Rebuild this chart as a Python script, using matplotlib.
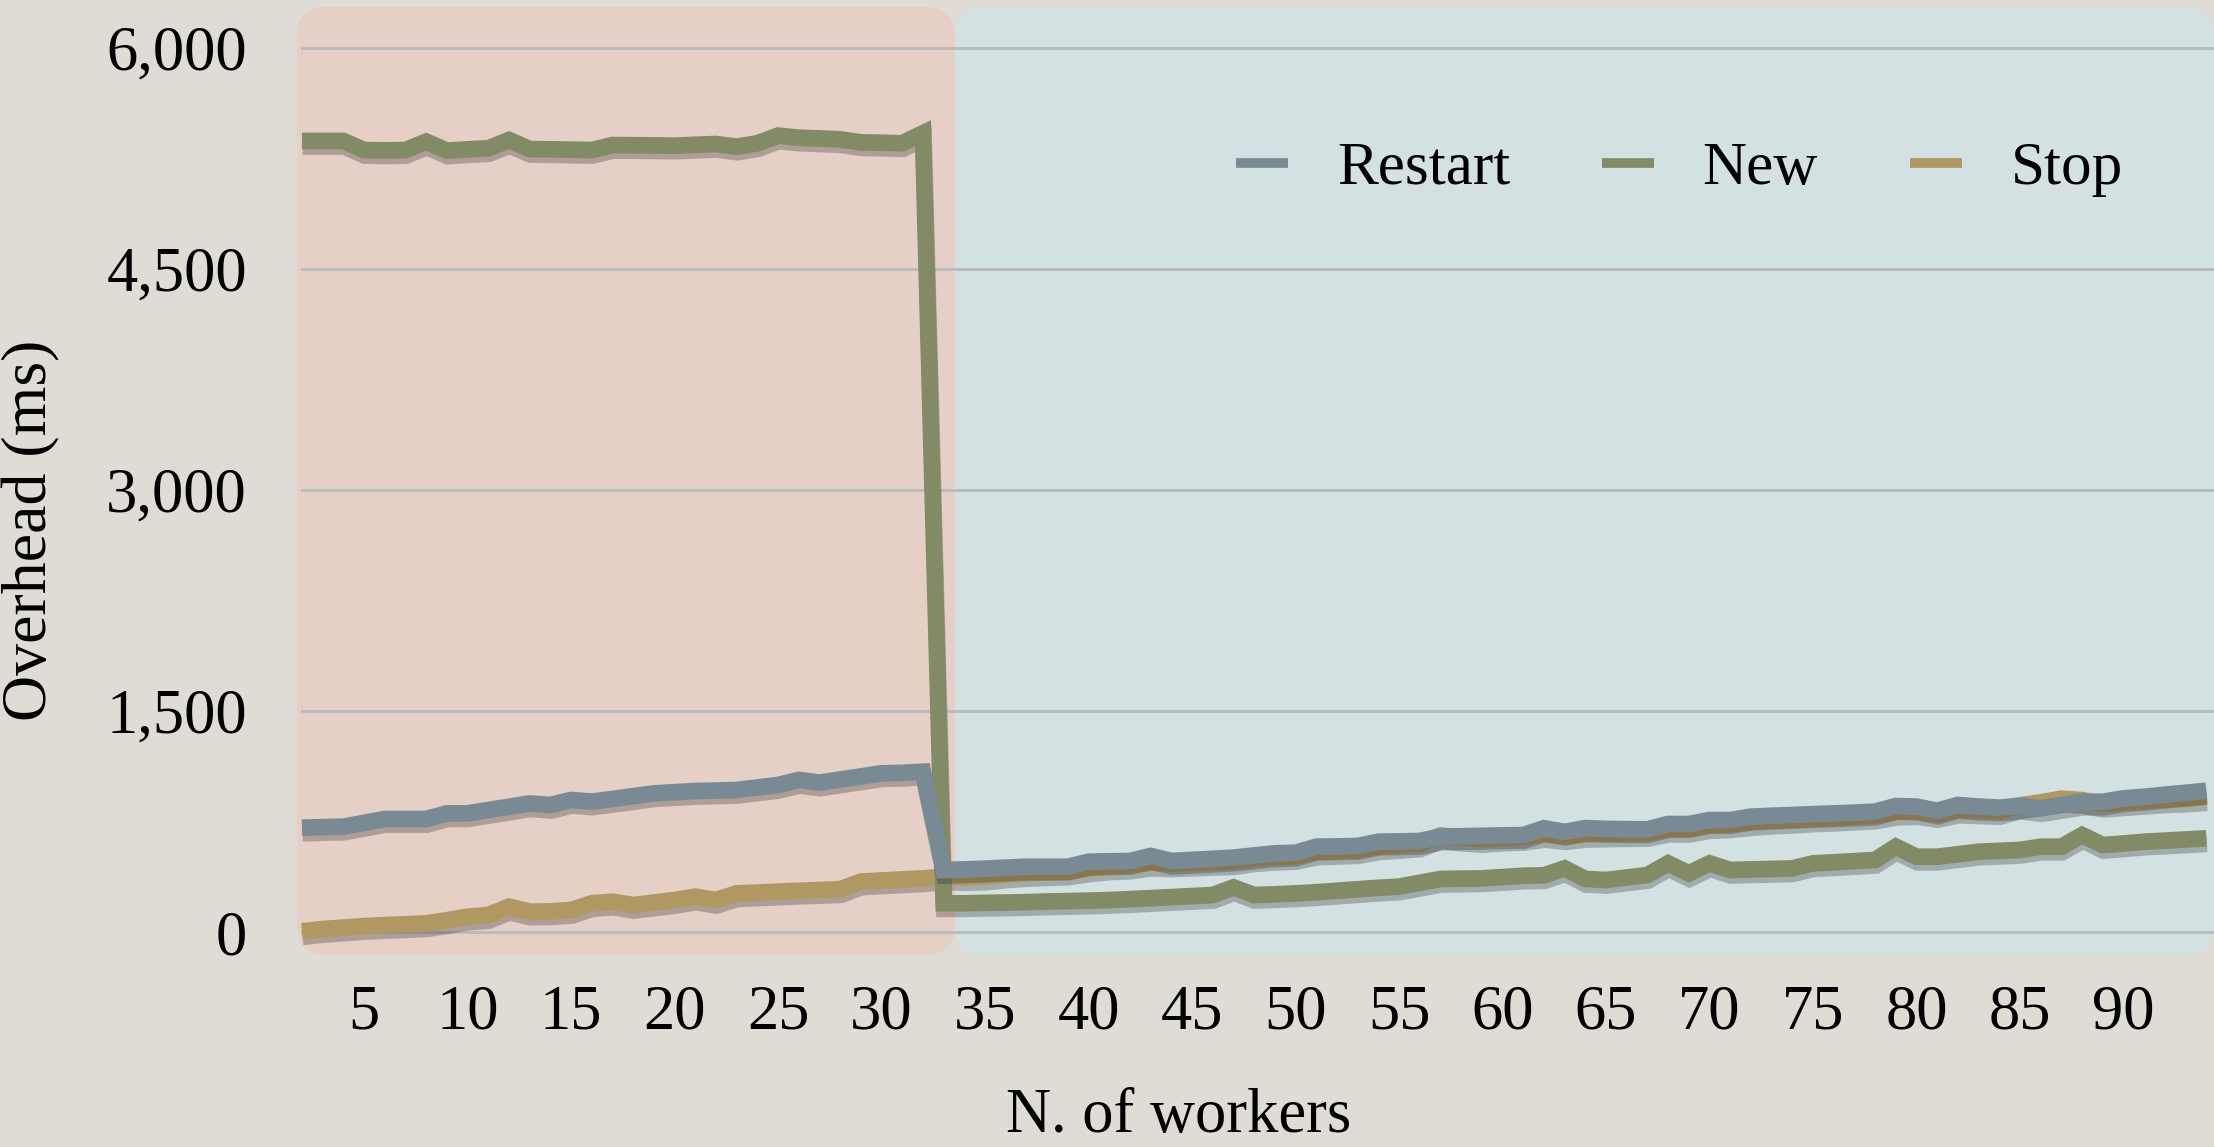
import matplotlib
matplotlib.use('Agg')
import matplotlib.pyplot as plt
import matplotlib.patheffects as pe
from matplotlib.patches import FancyBboxPatch
from matplotlib.lines import Line2D

# ---- data ----
workers = list(range(2, 95))

restart = [708, 712, 715, 741, 767, 767, 767, 805, 805, 828, 850, 873, 862, 896, 885, 903,
           922, 941, 949, 957, 960, 964, 981, 998, 1032, 1014, 1035, 1056, 1077, 1080, 1088,
           421, 425, 430, 437, 443, 443, 443, 477, 480, 482,
           516, 482, 490, 497, 505, 520, 534, 538, 579, 581,
           584, 613, 615, 618, 647, 650, 653, 656, 658, 704,
           680, 705, 700, 698, 697, 733, 733, 760, 760, 783,
           789, 794, 800, 805, 810, 817, 855, 851, 823, 862,
           851, 844, 857, 840, 862, 884, 884, 907, 918, 932,
           945, 959]

new = [5369, 5369, 5369, 5307, 5305, 5307, 5364, 5303, 5312, 5319, 5375, 5314, 5312, 5310,
       5307, 5341, 5340, 5339, 5337, 5343, 5348, 5330, 5353, 5405, 5391, 5386, 5380, 5359,
       5357, 5353, 5421,
       195, 195, 198, 200, 203, 207, 210, 213, 217, 223,
       230, 237, 244, 251, 303, 251, 256, 262, 270, 280,
       290, 300, 308, 334, 360, 362, 364, 373, 382, 385,
       432, 360, 353, 370, 387, 466, 398, 466, 421, 425,
       428, 432, 466, 473, 481, 489, 579, 511, 511, 528,
       545, 551, 557, 579, 579, 658, 590, 601, 613, 620,
       628, 636]

stop = [5, 20, 30, 40, 47, 53, 59, 80, 104, 115, 172, 138, 140, 149, 195, 206, 183, 200,
        217, 240, 217, 262, 268, 274, 280, 285, 290, 342, 350, 357, 364,
        376, 372, 375, 390, 400, 405, 410, 430, 445, 450,
        470, 465, 470, 475, 480, 500, 510, 515, 545, 550,
        555, 580, 590, 600, 655, 640, 630, 640, 645, 665,
        650, 665, 668, 670, 672, 700, 700, 725, 730, 745,
        755, 762, 770, 775, 782, 790, 815, 820, 800, 830,
        825, 820, 860, 880, 905, 895, 870, 880, 890, 900,
        905, 915]

series_names = ['Restart', 'New', 'Stop']
series_colors = ['#7A8A94', '#838A66', '#B09862']

x_ticks = [5, 10, 15, 20, 25, 30, 35, 40, 45, 50, 55, 60, 65, 70, 75, 80, 85, 90]
y_ticks = [0, 1500, 3000, 4500, 6000]
y_tick_labels = ['0', '1,500', '3,000', '4,500', '6,000']

plt.rcParams['font.family'] = ['Liberation Serif', 'DejaVu Serif']

W, H = 2214, 1147
fig = plt.figure(figsize=(W / 100, H / 100), dpi=100)
fig.patch.set_facecolor('#DEDCD5')

# axes box in pixels (top-down)
left, right, bottom, top = 297, 2214, 955, 7
ax = fig.add_axes([left / W, 1 - bottom / H, (right - left) / W, (bottom - top) / H])
ax.set_facecolor('none')
ax.set_xlim(1.76, 94.37)
ax.set_ylim(-156, 6278)

# coloured background panels
aw, ah = right - left, bottom - top
split = (955 - left) / aw
r = 30 / aw
ax.add_patch(FancyBboxPatch((0, 0), split, 1, boxstyle='round,pad=0,rounding_size=%f' % r,
                            mutation_aspect=aw / ah, transform=ax.transAxes,
                            fc='#E5CFC6', ec='none', zorder=0, clip_on=False))
ax.add_patch(FancyBboxPatch((split, 0), 1 - split, 1, boxstyle='round,pad=0,rounding_size=%f' % r,
                            mutation_aspect=aw / ah, transform=ax.transAxes,
                            fc='#D4E1E3', ec='none', zorder=0, clip_on=False))

for v in y_ticks:
    ax.axhline(v, xmin=(302 - left) / aw, xmax=1, color='#B9B9BE', lw=2, zorder=1)

shadow = [pe.SimpleLineShadow(offset=(0.5, -4), shadow_color='#202020', alpha=0.28), pe.Normal()]
for vals, name, col, z in zip([restart, new, stop], series_names, series_colors, [4, 3, 2]):
    ax.plot(workers, vals, color=col, lw=12, solid_joinstyle='miter', solid_capstyle='butt',
            zorder=z, path_effects=shadow, label=name)

for s in ax.spines.values():
    s.set_visible(False)
ax.set_xticks(x_ticks)
ax.set_yticks(y_ticks)
ax.set_yticklabels(y_tick_labels)
ax.tick_params(axis='both', length=0, labelsize=45, colors='black')
ax.tick_params(axis='y', pad=36)
ax.tick_params(axis='x', pad=21)

handles = [Line2D([], [], color=c, lw=7, solid_capstyle='butt') for c in series_colors]
leg = fig.legend(handles, series_names, loc='center left', bbox_to_anchor=(1236 / W, 1 - 169 / H),
                 ncol=3, frameon=False, fontsize=44, handlelength=0.85, handletextpad=0.8,
                 columnspacing=1.5, borderpad=0, borderaxespad=0)

fig.text(31 / W, 1 - 530 / H, 'Overhead (ms)', rotation=90, ha='center', va='center', fontsize=46)
fig.text(1179 / W, 1 - 1132 / H, 'N. of workers', ha='center', va='baseline', fontsize=45)

fig.savefig('out.png', dpi=100, facecolor=fig.get_facecolor())
